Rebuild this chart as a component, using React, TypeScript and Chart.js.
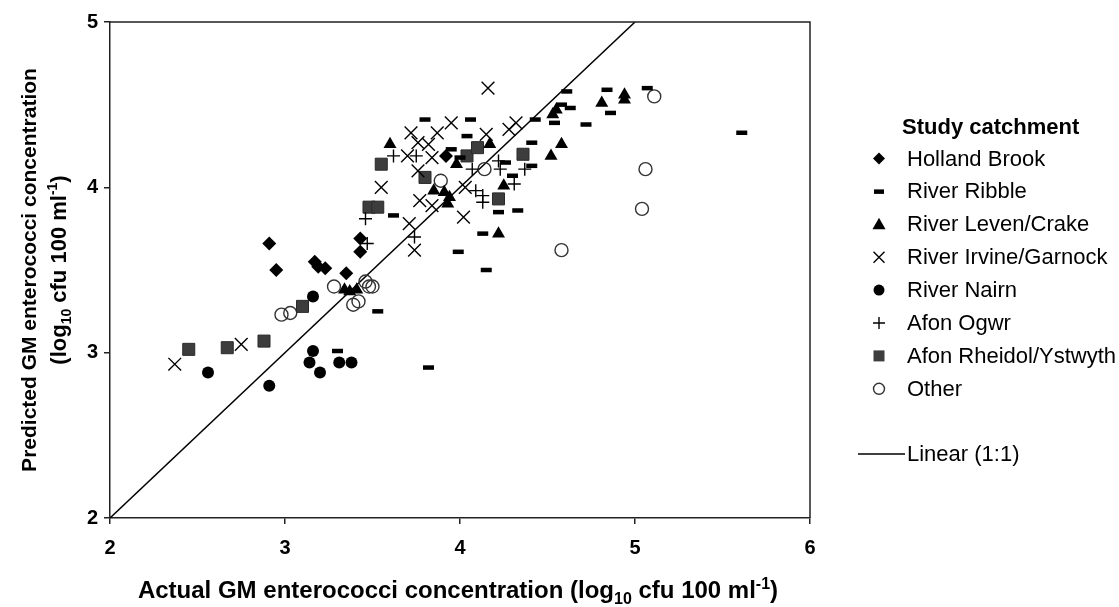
import React, { useEffect, useRef } from 'react';
import { Chart, registerables } from 'chart.js';

Chart.register(...registerables);

type Pt = [number, number];

// ---------------- data (actual x, predicted y; log10 cfu 100 ml-1) ----------------
const hollandBrook: Pt[] = [
  [2.91, 3.66], [2.95, 3.5], [3.17, 3.55], [3.19, 3.52], [3.23, 3.51],
  [3.35, 3.48], [3.43, 3.69], [3.43, 3.61], [3.92, 4.19],
];
const riverRibble: Pt[] = [
  [3.62, 3.83], [3.53, 3.25], [3.3, 3.01], [3.8, 4.41], [3.95, 4.23], [3.99, 3.61],
  [4.06, 4.41], [4.04, 4.31], [4.0, 4.18], [4.41, 4.27], [4.43, 4.41], [4.54, 4.39],
  [4.61, 4.58], [4.58, 4.5], [4.63, 4.48], [4.72, 4.38], [4.84, 4.59], [4.86, 4.45],
  [5.07, 4.6], [4.26, 4.15], [4.41, 4.13], [4.3, 4.07], [4.22, 3.85], [4.33, 3.86],
  [4.13, 3.72], [4.15, 3.5], [3.82, 2.91], [5.61, 4.33],
];
const riverLeven: Pt[] = [
  [3.6, 4.26], [3.85, 3.98], [3.91, 3.97], [3.94, 3.94], [3.93, 3.9], [3.34, 3.38],
  [3.37, 3.37], [3.41, 3.38], [4.17, 4.26], [4.58, 4.26], [4.52, 4.19], [4.25, 4.01],
  [3.98, 4.14], [4.55, 4.47], [4.53, 4.44], [4.81, 4.51], [4.94, 4.56], [4.94, 4.53],
  [4.22, 3.72],
];
const riverIrvine: Pt[] = [
  [2.37, 2.93], [2.75, 3.05], [3.55, 4.0], [3.72, 4.33], [3.76, 4.27], [3.87, 4.33],
  [3.95, 4.39], [3.82, 4.26], [3.7, 4.19], [3.84, 4.18], [3.76, 4.1], [3.77, 3.92],
  [3.84, 3.89], [3.71, 3.78], [3.74, 3.62], [4.16, 4.6], [4.15, 4.32], [4.28, 4.35],
  [4.32, 4.39], [4.03, 4.0], [4.02, 3.82],
];
const riverNairn: Pt[] = [
  [2.56, 2.88], [2.91, 2.8], [3.16, 3.34], [3.16, 3.01], [3.14, 2.94], [3.2, 2.88],
  [3.31, 2.94], [3.38, 2.94],
];
const afonOgwr: Pt[] = [
  [3.46, 3.81], [3.47, 3.66], [3.62, 4.19], [3.75, 4.19], [3.74, 3.7], [4.22, 4.16],
  [4.07, 4.11], [4.23, 4.11], [4.37, 4.11], [4.31, 4.02], [4.09, 3.98], [4.13, 3.95],
  [4.13, 3.91],
];
const afonRheidol: Pt[] = [
  [2.45, 3.02], [2.67, 3.03], [2.88, 3.07], [3.1, 3.28], [3.48, 3.88], [3.53, 3.88],
  [3.55, 4.14], [3.8, 4.06], [4.04, 4.19], [4.1, 4.24], [4.36, 4.2], [4.22, 3.93],
];
const other: Pt[] = [
  [2.98, 3.23], [3.03, 3.24], [3.28, 3.4], [3.39, 3.29], [3.42, 3.31], [3.46, 3.43],
  [3.48, 3.4], [3.5, 3.4], [3.89, 4.04], [4.14, 4.11], [5.11, 4.55], [5.06, 4.11],
  [5.04, 3.87], [4.58, 3.62],
];
const oneToOne: Pt[] = [[2, 2], [5, 5]];

const seriesNames = [
  'Holland Brook', 'River Ribble', 'River Leven/Crake', 'River Irvine/Garnock',
  'River Nairn', 'Afon Ogwr', 'Afon Rheidol/Ystwyth', 'Other',
];
const seriesData = [hollandBrook, riverRibble, riverLeven, riverIrvine, riverNairn, afonOgwr, afonRheidol, other];
const lineLabel = 'Linear (1:1)';
const legendTitle = 'Study catchment';
const xRange = [2, 6];
const yRange = [2, 5];
const tickStep = 1;
type Seg = { t: string; sub?: boolean; sup?: boolean };
const xTitleSegs: Seg[] = [
  { t: 'Actual GM enterococci concentration (log' }, { t: '10', sub: true },
  { t: ' cfu 100 ml' }, { t: '-1', sup: true }, { t: ')' },
];
const yTitleLine1: Seg[] = [{ t: 'Predicted GM enterococci concentration' }];
const yTitleLine2: Seg[] = [
  { t: '(log' }, { t: '10', sub: true }, { t: ' cfu 100 ml' }, { t: '-1', sup: true }, { t: ')' },
];

// ---------------- styles ----------------
const FONT = '"Liberation Sans", Arial, Helvetica, sans-serif';
const markerStyles: any[] = [
  { pointStyle: 'rectRot', radius: 7, bg: '#000', border: '#000', bw: 0 },
  { pointStyle: 'line', radius: 5.5, bg: '#000', border: '#000', bw: 4.5 },
  { pointStyle: 'triangle', radius: 7.5, bg: '#000', border: '#000', bw: 0 },
  { pointStyle: 'crossRot', radius: 9, bg: 'rgba(0,0,0,0)', border: '#000', bw: 1.4 },
  { pointStyle: 'circle', radius: 6, bg: '#000', border: '#000', bw: 0 },
  { pointStyle: 'cross', radius: 6.5, bg: 'rgba(0,0,0,0)', border: '#000', bw: 1.4 },
  { pointStyle: 'rect', radius: 8.5, bg: '#3d3d3d', border: '#2a2a2a', bw: 1 },
  { pointStyle: 'circle', radius: 6.5, bg: 'rgba(255,255,255,0)', border: '#333', bw: 1.4 },
];

function drawRich(ctx: CanvasRenderingContext2D, segs: Seg[], cx: number, cy: number, size: number, weight: string) {
  const fontFor = (s: Seg) => `${weight} ${s.sub || s.sup ? Math.round(size * 0.65) : size}px ${FONT}`;
  let total = 0;
  const widths = segs.map((s) => {
    ctx.font = fontFor(s);
    const w = ctx.measureText(s.t).width;
    total += w;
    return w;
  });
  let x = cx - total / 2;
  ctx.textAlign = 'left';
  ctx.textBaseline = 'alphabetic';
  const base = cy + size * 0.35;
  segs.forEach((s, i) => {
    ctx.font = fontFor(s);
    const dy = s.sub ? size * 0.22 : s.sup ? -size * 0.4 : 0;
    ctx.fillText(s.t, x, base + dy);
    x += widths[i];
  });
}

function drawLegendMarker(ctx: CanvasRenderingContext2D, i: number, x: number, y: number) {
  ctx.save();
  ctx.fillStyle = '#000';
  ctx.strokeStyle = '#000';
  ctx.lineWidth = 1.4;
  ctx.beginPath();
  switch (i) {
    case 0:
      ctx.moveTo(x - 6, y); ctx.lineTo(x, y - 6); ctx.lineTo(x + 6, y); ctx.lineTo(x, y + 6);
      ctx.closePath(); ctx.fill(); break;
    case 1:
      ctx.fillRect(x - 5, y - 2, 10, 4.5); break;
    case 2:
      ctx.moveTo(x, y - 6.5); ctx.lineTo(x + 6.5, y + 5); ctx.lineTo(x - 6.5, y + 5);
      ctx.closePath(); ctx.fill(); break;
    case 3:
      ctx.moveTo(x - 5.5, y - 5.5); ctx.lineTo(x + 5.5, y + 5.5);
      ctx.moveTo(x + 5.5, y - 5.5); ctx.lineTo(x - 5.5, y + 5.5); ctx.stroke(); break;
    case 4:
      ctx.arc(x, y, 5.5, 0, Math.PI * 2); ctx.fill(); break;
    case 5:
      ctx.moveTo(x - 6, y); ctx.lineTo(x + 6, y); ctx.moveTo(x, y - 6); ctx.lineTo(x, y + 6);
      ctx.stroke(); break;
    case 6:
      ctx.fillStyle = '#3d3d3d'; ctx.fillRect(x - 5.5, y - 5.5, 11, 11); break;
    case 7:
      ctx.strokeStyle = '#333'; ctx.arc(x, y, 5.5, 0, Math.PI * 2); ctx.stroke(); break;
  }
  ctx.restore();
}

const decorPlugin = {
  id: 'decor',
  afterDraw(chart: any) {
    const ctx: CanvasRenderingContext2D = chart.ctx;
    const a = chart.chartArea;
    ctx.save();
    // frame (top & right)
    ctx.strokeStyle = '#222';
    ctx.lineWidth = 1.5;
    ctx.beginPath();
    ctx.moveTo(a.left, a.top); ctx.lineTo(a.right, a.top); ctx.lineTo(a.right, a.bottom);
    ctx.stroke();

    ctx.fillStyle = '#000';
    // axis titles
    drawRich(ctx, xTitleSegs, 458, 590, 24, 'bold');
    const cy = (a.top + a.bottom) / 2;
    ctx.save();
    ctx.translate(29, cy);
    ctx.rotate(-Math.PI / 2);
    drawRich(ctx, yTitleLine1, 0, 0, 21, 'bold');
    ctx.restore();
    ctx.save();
    ctx.translate(58, cy);
    ctx.rotate(-Math.PI / 2);
    drawRich(ctx, yTitleLine2, 0, 0, 22, 'bold');
    ctx.restore();

    // legend
    ctx.textAlign = 'left';
    ctx.textBaseline = 'middle';
    ctx.font = `bold 22px ${FONT}`;
    ctx.fillText(legendTitle, 902, 128);
    ctx.font = `22px ${FONT}`;
    seriesNames.forEach((name, i) => {
      const y = 158.5 + i * 32.9;
      drawLegendMarker(ctx, i, 879, y);
      ctx.fillText(name, 907, y + 1);
    });
    ctx.strokeStyle = '#000';
    ctx.lineWidth = 1.5;
    ctx.beginPath();
    ctx.moveTo(858, 454); ctx.lineTo(905, 454);
    ctx.stroke();
    ctx.fillText(lineLabel, 907, 455);
    ctx.restore();
  },
};

export default function App() {
  const ref = useRef<HTMLCanvasElement>(null);
  useEffect(() => {
    if (!ref.current) return;
    const datasets: any[] = seriesNames.map((name, i) => {
      const s = markerStyles[i];
      return {
        type: 'scatter',
        label: name,
        data: seriesData[i].map(([x, y]) => ({ x, y })),
        pointStyle: s.pointStyle,
        pointRadius: s.radius,
        pointHoverRadius: s.radius,
        pointBackgroundColor: s.bg,
        pointBorderColor: s.border,
        pointBorderWidth: s.bw,
        showLine: false,
      };
    });
    datasets.push({
      type: 'scatter',
      label: lineLabel,
      data: oneToOne.map(([x, y]) => ({ x, y })),
      showLine: true,
      borderColor: '#000',
      borderWidth: 1.5,
      pointRadius: 0,
      fill: false,
    });
    const tickFont = { family: FONT, size: 20, weight: 'bold' as const };
    const chart = new Chart(ref.current, {
      type: 'scatter',
      data: { datasets },
      options: {
        animation: false,
        responsive: false,
        events: [],
        layout: { padding: { top: 22, right: 309, bottom: 0, left: 0 } },
        plugins: { legend: { display: false }, tooltip: { enabled: false }, title: { display: false } },
        scales: {
          x: {
            type: 'linear', min: xRange[0], max: xRange[1],
            afterFit: (s: any) => { s.height = 89; },
            ticks: { stepSize: tickStep, font: tickFont, color: '#000', padding: 12 },
            grid: { drawOnChartArea: false, drawTicks: true, tickLength: 6, color: '#222', lineWidth: 1.5 },
            border: { display: true, color: '#222', width: 1.5 },
          },
          y: {
            type: 'linear', min: yRange[0], max: yRange[1],
            afterFit: (s: any) => { s.width = 110; },
            ticks: { stepSize: tickStep, font: tickFont, color: '#000', padding: 6 },
            grid: { drawOnChartArea: false, drawTicks: true, tickLength: 6, color: '#222', lineWidth: 1.5 },
            border: { display: true, color: '#222', width: 1.5 },
          },
        },
      },
      plugins: [decorPlugin],
    });
    return () => chart.destroy();
  }, []);
  return (
    <div style={{ position: 'absolute', left: 0, top: 0, width: 1119, height: 607, background: '#fff' }}>
      <canvas ref={ref} width={1119} height={607} />
    </div>
  );
}
